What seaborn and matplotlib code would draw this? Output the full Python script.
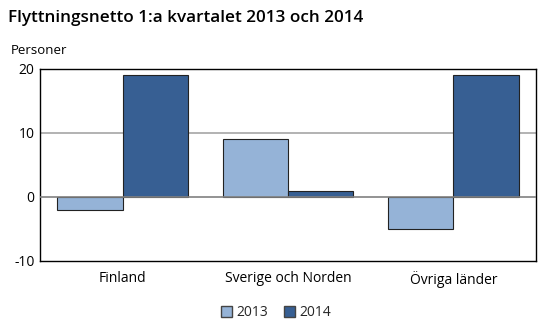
import matplotlib
matplotlib.use("Agg")
import matplotlib.pyplot as plt
import seaborn as sns
import pandas as pd
from matplotlib.patches import Patch

categories = ["Finland", "Sverige och Norden", "Övriga länder"]
years = ["2013", "2014"]
values_2013 = [-2, 9, -5]
values_2014 = [19, 1, 19]
yticks = [-10, 0, 10, 20]

df = pd.DataFrame({
    "Område": categories * 2,
    "År": [years[0]] * 3 + [years[1]] * 3,
    "Personer": values_2013 + values_2014,
})

sns.set_theme(style="white")
plt.rcParams['font.family'] = ['Open Sans', 'DejaVu Sans']

colors = {"2013": "#95B3D7", "2014": "#375F93"}

fig = plt.figure(figsize=(5.52, 3.31), dpi=100)
ax = fig.add_axes([40/552, 1 - 261/331, 496/552, 192/331])
sns.barplot(data=df, x="Område", y="Personer", hue="År", palette=colors,
            width=0.79, edgecolor="#222222", linewidth=0.8, ax=ax, legend=False,
            saturation=1, zorder=3)

ax.set_ylim(-10, 20)
ax.set_yticks(yticks)
ax.set_yticklabels([str(v) for v in yticks], fontsize=10)
ax.set_xlabel("")
ax.set_ylabel("")
ax.tick_params(axis="both", length=0, pad=4, labelsize=10, colors="#000000")
ax.tick_params(axis="x", pad=7)
for v in [10]:
    ax.axhline(v, color="#A6A6A6", lw=1.2, zorder=1)
ax.axhline(0, color="#808080", lw=1.2, zorder=4)
for s in ax.spines.values():
    s.set_color("#000000")
    s.set_linewidth(1.0)
    s.set_visible(True)

fig.text(8/552, 1 - 18/331, "Flyttningsnetto 1:a kvartalet 2013 och 2014",
         fontsize=12.3, fontweight="semibold", va="center", ha="left", color="#000000")
fig.text(11/552, 1 - 50/331, "Personer", fontsize=9.5, va="center", ha="left", color="#000000")

handles = [Patch(facecolor=colors[y], edgecolor="#444444", label=y) for y in years]
fig.legend(handles=handles, loc="center", bbox_to_anchor=(0.5, 1 - 313/331), ncol=2,
           frameon=False, fontsize=10, handlelength=0.8, handleheight=0.8,
           handletextpad=0.3, columnspacing=1.2)

fig.savefig("out.png", dpi=100)
